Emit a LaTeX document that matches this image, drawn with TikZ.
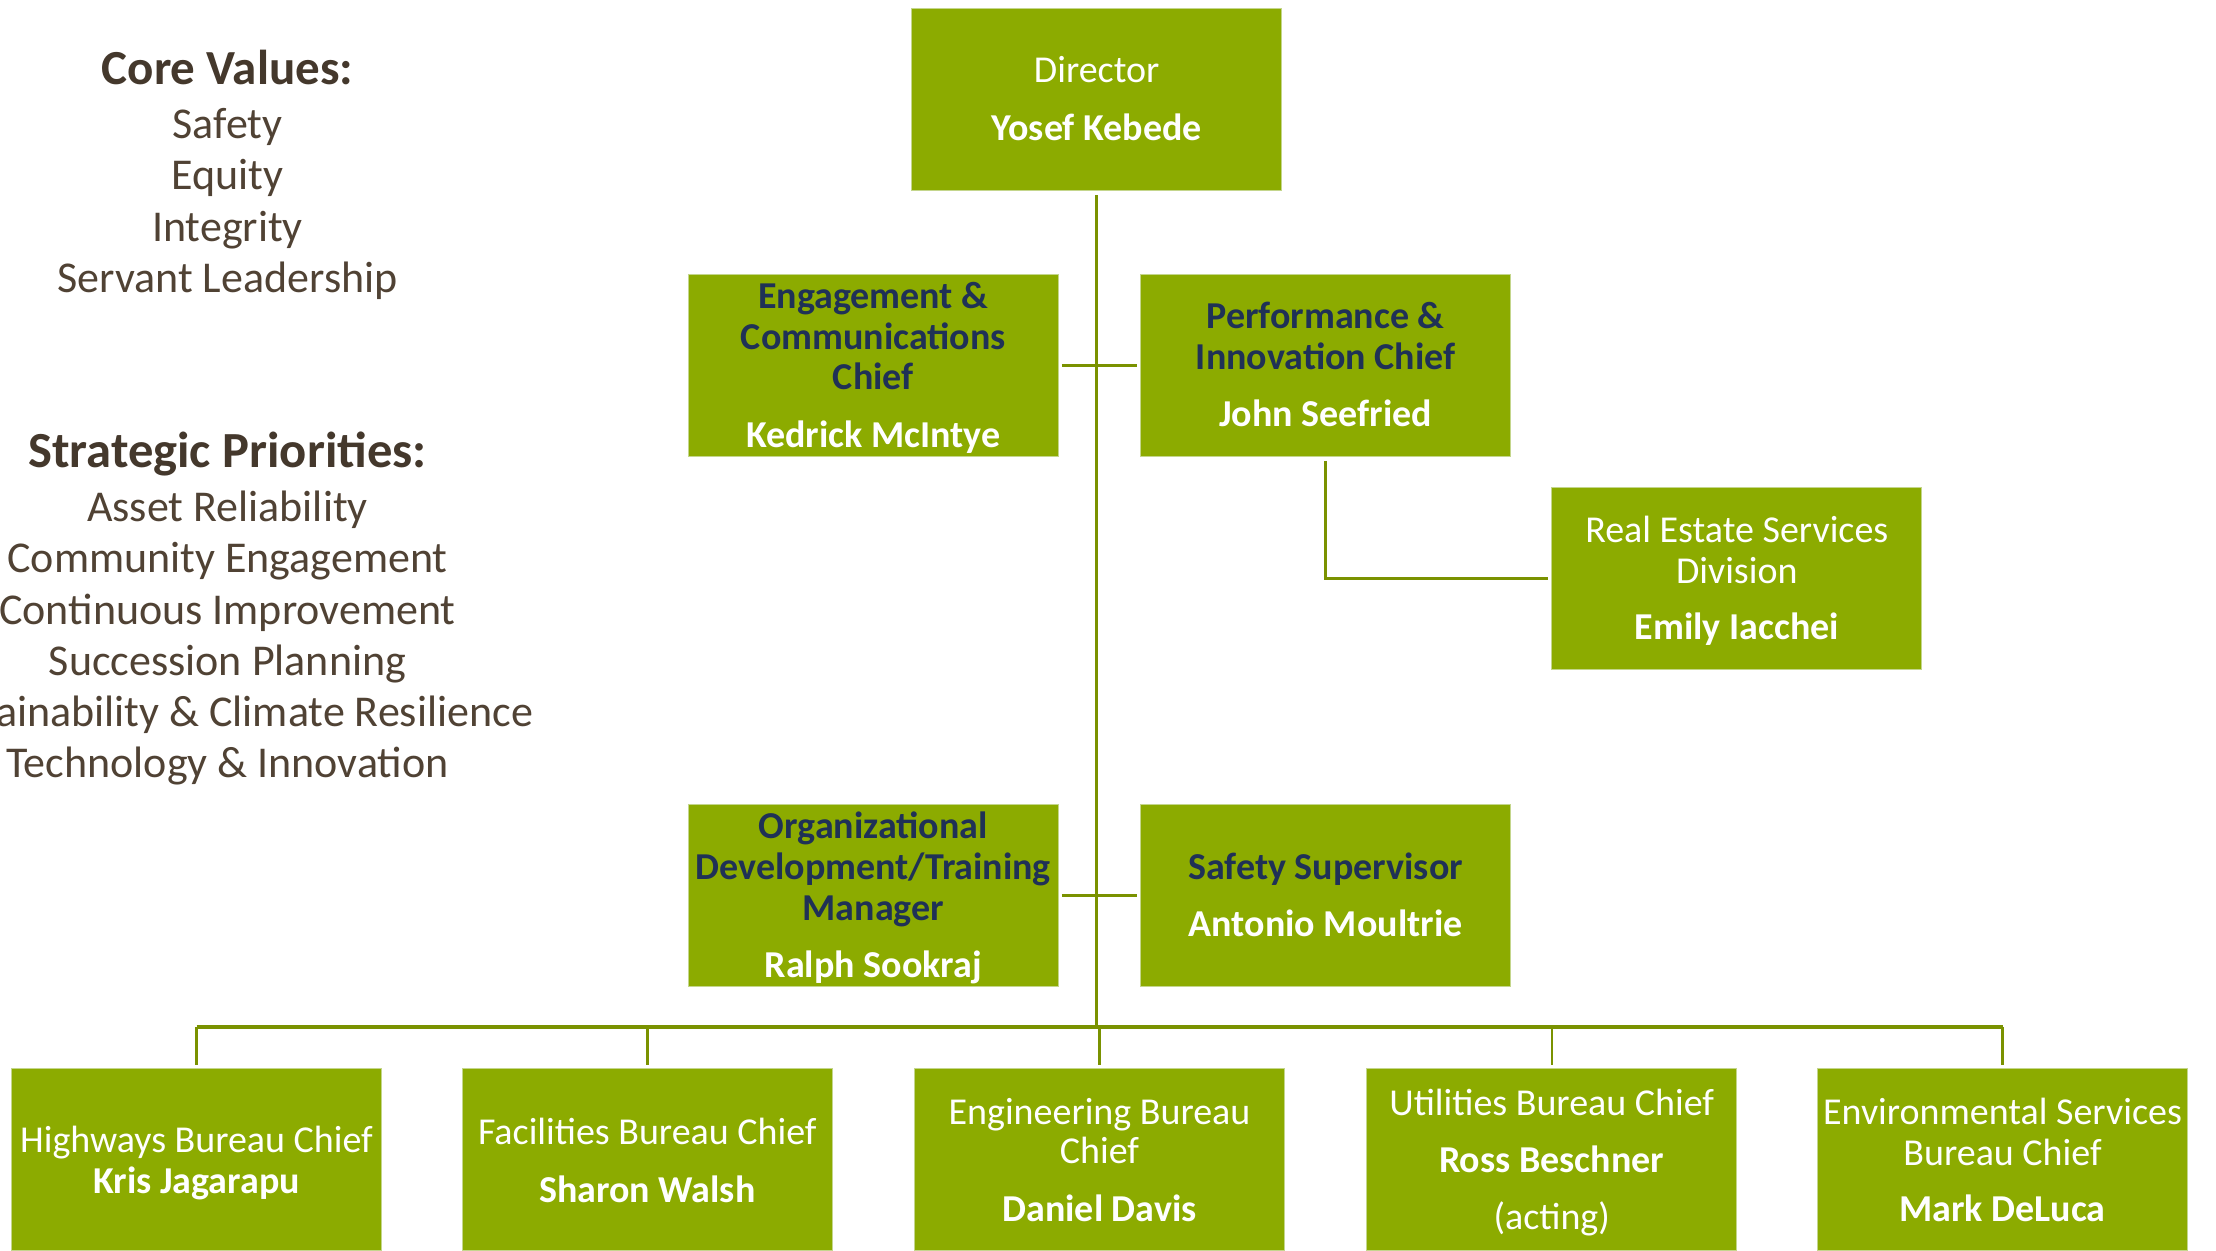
\documentclass[tikz,border=0pt]{standalone}
\usepackage{fontspec}
\setmainfont{Carlito}
\definecolor{boxgreen}{RGB}{140,171,0}
\definecolor{boxedge}{RGB}{196,214,140}
\definecolor{linegreen}{RGB}{122,146,0}
\definecolor{navy}{RGB}{31,49,86}
\definecolor{txtbrown}{RGB}{80,66,52}
\tikzset{
  box/.style={fill=boxgreen, draw=boxedge, line width=0.5pt, inner sep=0,
    minimum width=185.15pt, minimum height=91.15pt},
  bt/.style={inner sep=0, anchor=base, yshift=-0.8pt, font=\fontsize{19}{20}\selectfont},
  wt/.style={bt, text=white},
  wn/.style={bt, text=white, font=\fontsize{19}{20}\selectfont\bfseries},
  nt/.style={bt, text=navy, font=\fontsize{19}{20}\selectfont\bfseries},
  side/.style={inner sep=0, anchor=base, yshift=-1.3pt, text=txtbrown, font=\fontsize{22}{24}\selectfont},
  head/.style={inner sep=0, anchor=base, yshift=-1pt, text=txtbrown!85!black, font=\fontsize{24.5}{26}\selectfont\bfseries},
  conn/.style={draw=linegreen, line width=1.5pt},
  bus/.style={draw=linegreen, line width=2pt},
  drop/.style={draw=linegreen, line width=1.2pt},
}
\begin{document}
\begin{tikzpicture}[x=0.5pt,y=-0.5pt]
\useasboundingbox (0,0) rectangle (2216,1251);
\clip (0,0) rectangle (2216,1251);
\fill[white] (0,0) rectangle (2216,1251);

% left text
\node[head] (cv) at (227.5,82.8) {Core Values:};
\node[side] (cv1) at (227.5,136) {Safety};
\node[side] (cv2) at (227.5,186.8) {Equity};
\node[side] (cv3) at (227.5,239) {Integrity};
\node[side] (cv4) at (227.5,290) {Servant Leadership};

\node[head, font=\fontsize{25.3}{27}\selectfont\bfseries] (sp) at (227.5,465.8) {Strategic Priorities:};
\node[side] (sp1) at (227.5,519) {Asset Reliability};
\node[side] (sp2) at (227.5,569.8) {Community Engagement};
\node[side] (sp3) at (227.5,622) {Continuous Improvement};
\node[side] (sp4) at (227.5,673) {Succession Planning};
\node[side] (sp5) at (227.5,723.8) {Sustainability \& Climate Resilience};
\node[side] (sp6) at (227.5,774.7) {Technology \& Innovation};

% boxes
\node[box] (dir) at (1096.7,99.7) {};
\node[box] (eng) at (873.3,365.3) {};
\node[box] (perf) at (1325.6,365.3) {};
\node[box] (re) at (1736.8,578.8) {};
\node[box] (org) at (873.3,895.2) {};
\node[box] (saf) at (1325.6,895.2) {};
\node[box] (hw) at (196.5,1159.5) {};
\node[box] (fac) at (647.3,1159.5) {};
\node[box] (engb) at (1099.5,1159.5) {};
\node[box] (util) at (1551.7,1159.5) {};
\node[box] (env) at (2002.5,1159.5) {};

% connectors
\coordinate (busY) at (0,1027.4);
\draw[conn] ([yshift=-2pt]dir.south) -- (dir.south |- busY);
\draw[bus] (hw.north |- busY) -- (env.north |- busY);
\foreach \b in {hw,fac,engb,util,env}{
  \draw[drop] (\b.north |- busY) -- ([yshift=1.5pt]\b.north);
}
\draw[conn, shorten <=1.5pt, shorten >=1.5pt] (eng.east) -- (perf.west);
\draw[conn, shorten <=1.5pt, shorten >=1.5pt] (org.east) -- (saf.west);
\draw[conn, shorten <=2pt, shorten >=1.5pt] (perf.south) |- (re.west);

% box texts
\node[wt] (dir1) at (1096.7,81.2) {Director};
\node[wn] (dir2) at (1096.7,139.2) {Yosef Kebede};

\node[nt] (eng1) at (873.3,307.4) {Engagement \&};
\node[nt] (eng2) at (873.3,348.3) {Communications};
\node[nt] (eng3) at (873.3,387.9) {Chief};
\node[wn] (eng4) at (873.3,445.9) {Kedrick McIntye};

\node[nt] (perf1) at (1325.6,327.1) {Performance \&};
\node[nt] (perf2) at (1325.6,368.1) {Innovation Chief};
\node[wn] (perf3) at (1325.6,424.7) {John Seefried};

\node[wt] (re1) at (1736.8,540.5) {Real Estate Services};
\node[wt] (re2) at (1736.8,581.5) {Division};
\node[wn] (re3) at (1736.8,638) {Emily Iacchei};

\node[nt] (org1) at (873.3,837.3) {Organizational};
\node[nt] (org2) at (873.3,878.3) {Development/Training};
\node[nt] (org3) at (873.3,919.3) {Manager};
\node[wn] (org4) at (873.3,975.8) {Ralph Sookraj};

\node[nt] (saf1) at (1325.6,878.3) {Safety Supervisor};
\node[wn] (saf2) at (1325.6,934.8) {Antonio Moultrie};

\node[wt] (hw1) at (196.5,1151) {Highways Bureau Chief};
\node[wn] (hw2) at (196.5,1192) {Kris Jagarapu};

\node[wt] (fac1) at (647.3,1142.6) {Facilities Bureau Chief};
\node[wn] (fac2) at (647.3,1200.5) {Sharon Walsh};

\node[wt] (engb1) at (1099.5,1122.8) {Engineering Bureau};
\node[wt] (engb2) at (1099.5,1162.3) {Chief};
\node[wn] (engb3) at (1099.5,1220.3) {Daniel Davis};

\node[wt] (util1) at (1551.7,1114.3) {Utilities Bureau Chief};
\node[wn] (util2) at (1551.7,1170.8) {Ross Beschner};
\node[wt] (util3) at (1551.7,1227.4) {(acting)};

\node[wt] (env1) at (2002.5,1122.8) {Environmental Services};
\node[wt] (env2) at (2002.5,1163.8) {Bureau Chief};
\node[wn] (env3) at (2002.5,1220.3) {Mark DeLuca};
\end{tikzpicture}
\end{document}
